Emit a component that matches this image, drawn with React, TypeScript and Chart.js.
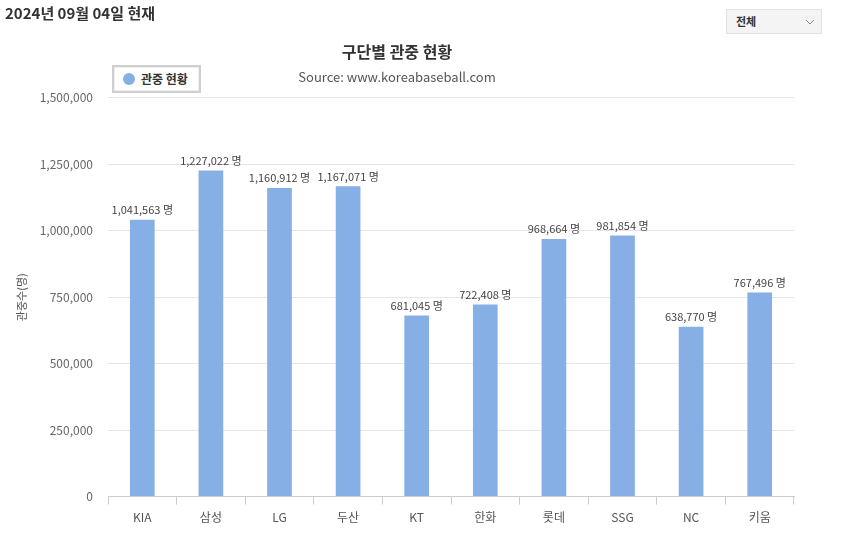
import React, { useEffect, useRef } from "react";
import { Chart, registerables } from "chart.js";

Chart.register(...registerables);

const teams = ["KIA", "삼성", "LG", "두산", "KT", "한화", "롯데", "SSG", "NC", "키움"];
const attendance = [1041563, 1227022, 1160912, 1167071, 681045, 722408, 968664, 981854, 638770, 767496];
const seriesName = "관중 현황";
const chartTitle = "구단별 관중 현황";
const chartSubtitle = "Source: www.koreabaseball.com";
const yAxisTitle = "관중수(명)";
const headerText = "2024년 09월 04일 현재";
const unit = " 명";

const FONT = "'Noto Sans CJK KR', 'Noto Sans', sans-serif";
const BAR_COLOR = "#86b0e5";

const valueLabels = {
  id: "valueLabels",
  afterDatasetsDraw(chart: any) {
    const ctx = chart.ctx;
    const meta = chart.getDatasetMeta(0);
    const data = chart.data.datasets[0].data as number[];
    ctx.save();
    ctx.font = `11px ${FONT}`;
    ctx.fillStyle = "#444";
    ctx.textAlign = "center";
    ctx.textBaseline = "middle";
    meta.data.forEach((bar: any, i: number) => {
      ctx.fillText(data[i].toLocaleString("en-US") + unit, bar.x, bar.y - 10);
    });
    ctx.restore();
  },
};

export default function App() {
  const ref = useRef<HTMLCanvasElement>(null);
  useEffect(() => {
    if (!ref.current) return;
    const chart = new Chart(ref.current, {
      type: "bar",
      data: {
        labels: teams,
        datasets: [
          {
            label: seriesName,
            data: attendance,
            backgroundColor: BAR_COLOR,
            categoryPercentage: 0.72,
            barPercentage: 0.5,
          },
        ],
      },
      options: {
        responsive: false,
        animation: false,
        layout: { padding: { left: 0, right: 12, top: 0, bottom: 5 } },
        plugins: {
          legend: { display: false },
          tooltip: { enabled: false },
          title: {
            display: true,
            text: chartTitle,
            color: "#333",
            font: { family: FONT, size: 16, weight: "bold" },
            padding: { top: 42, bottom: 5 },
          },
          subtitle: {
            display: true,
            text: chartSubtitle,
            color: "#555",
            font: { family: FONT, size: 13 },
            padding: { top: 3, bottom: 13 },
          },
        },
        scales: {
          x: {
            grid: {
              drawOnChartArea: false,
              drawTicks: true,
              tickLength: 8,
              offset: true,
              color: "#cccccc",
            },
            border: { color: "#cccccc" },
            ticks: {
              color: "#555",
              font: { family: FONT, size: 12 },
              padding: 6,
            },
          },
          y: {
            min: 0,
            max: 1500000,
            afterFit(scale: any) {
              scale.width = 108;
            },
            grid: { color: "#e6e6e6", drawTicks: false },
            border: { display: false },
            ticks: {
              stepSize: 250000,
              color: "#666",
              padding: 15,
              font: { family: FONT, size: 12 },
              callback: (v: any) => Number(v).toLocaleString("en-US"),
            },
            title: {
              display: true,
              text: yAxisTitle,
              color: "#555",
              font: { family: FONT, size: 11 },
              padding: { top: 15, bottom: 0 },
            },
          },
        },
      },
      plugins: [valueLabels],
    });
    return () => chart.destroy();
  }, []);

  return (
    <div
      style={{
        position: "fixed",
        left: 0,
        top: 0,
        width: 850,
        height: 536,
        background: "#fff",
        fontFamily: FONT,
        overflow: "hidden",
      }}
    >
      <canvas
        ref={ref}
        width={806}
        height={536}
        style={{ position: "absolute", left: 0, top: 0, width: 806, height: 536 }}
      />
      <div
        style={{
          position: "absolute",
          left: 5,
          top: 3,
          fontSize: 15,
          fontWeight: "bold",
          color: "#333",
          lineHeight: "20px",
        }}
      >
        {headerText}
      </div>
      <div
        style={{
          position: "absolute",
          left: 726,
          top: 9,
          width: 96,
          height: 25,
          background: "#f4f4f4",
          border: "1px solid #e2e2e2",
          boxSizing: "border-box",
        }}
      >
        <span
          style={{
            position: "absolute",
            left: 9,
            top: 4,
            fontSize: 11,
            fontWeight: "bold",
            color: "#333",
            lineHeight: "15px",
          }}
        >
          전체
        </span>
        <svg
          width="10"
          height="6"
          style={{ position: "absolute", right: 6, top: 9 }}
        >
          <polyline points="1,1 5,5 9,1" fill="none" stroke="#888" strokeWidth="1" />
        </svg>
      </div>
      <div
        style={{
          position: "absolute",
          left: 112,
          top: 65,
          width: 89,
          height: 28,
          border: "2px solid #cfcfcf",
          boxShadow: "inset 0 0 0 1px #eeeeee",
          boxSizing: "border-box",
          background: "#fff",
        }}
      >
        <span
          style={{
            position: "absolute",
            left: 9,
            top: 6,
            width: 12,
            height: 12,
            borderRadius: "50%",
            background: BAR_COLOR,
          }}
        />
        <span
          style={{
            position: "absolute",
            left: 27,
            top: 3,
            fontSize: 12,
            fontWeight: "bold",
            color: "#333",
            lineHeight: "18px",
          }}
        >
          {seriesName}
        </span>
      </div>
    </div>
  );
}
